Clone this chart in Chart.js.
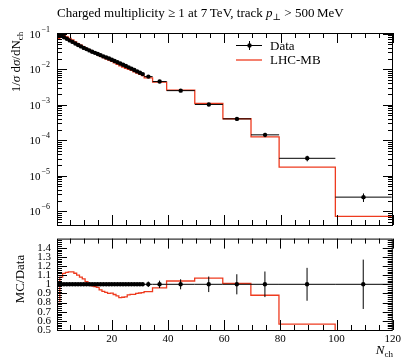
<!DOCTYPE html>
<html>
<head>
<meta charset="utf-8">
<title>Charged multiplicity</title>
<script src="https://cdn.jsdelivr.net/npm/chart.js@4.4.1/dist/chart.umd.min.js"></script>
<style>
  body { margin: 0; background: #fff; }
  #box { position: relative; width: 404px; height: 360px; }
  #box canvas { position: absolute; left: 0; }
</style>
</head>
<body>
<div id="box">
  <canvas id="mainChart" width="404" height="229" style="top:0"></canvas>
  <canvas id="ratioChart" width="404" height="134" style="top:226px"></canvas>
</div>
<script>
// N_ch bins
var nchEdges = [0.5, 1.5, 2.5, 3.5, 4.5, 5.5, 6.5, 7.5, 8.5, 9.5, 10.5,
  11.5, 12.5, 13.5, 14.5, 15.5, 16.5, 17.5, 18.5, 19.5, 20.5,
  21.5, 22.5, 23.5, 24.5, 25.5, 26.5, 27.5, 28.5, 29.5, 30.5, 31.5,
  34.5, 39.5, 49.5, 59.5, 69.5, 79.5, 99.5, 119.5];
var nchCentres = [1, 2, 3, 4, 5, 6, 7, 8, 9, 10,
  11, 12, 13, 14, 15, 16, 17, 18, 19, 20,
  21, 22, 23, 24, 25, 26, 27, 28, 29, 30, 31,
  33, 37, 44.5, 54.5, 64.5, 74.5, 89.5, 109.5];

// 1/sigma dsigma/dNch, data
var dataValues = [0.090, 0.088, 0.080, 0.072, 0.065, 0.059, 0.053, 0.048, 0.044, 0.040,
  0.037, 0.034, 0.031, 0.029, 0.027, 0.025, 0.023, 0.0215, 0.0200, 0.0185,
  0.0170, 0.0157, 0.0145, 0.0134, 0.0123, 0.0113, 0.0104, 0.0095, 0.0087, 0.0080, 0.0073,
  0.0062, 0.0045, 0.0025, 0.00102, 0.00040, 0.000142, 3.1e-5, 2.5e-6];
// relative uncertainty of data
var dataRelErr = [0.005, 0.005, 0.005, 0.005, 0.005, 0.005, 0.005, 0.005, 0.005, 0.005,
  0.005, 0.005, 0.005, 0.005, 0.005, 0.008, 0.008, 0.008, 0.008, 0.008,
  0.008, 0.008, 0.008, 0.008, 0.008, 0.012, 0.012, 0.012, 0.012, 0.012, 0.012,
  0.03, 0.04, 0.055, 0.085, 0.11, 0.14, 0.18, 0.27];
// LHC-MB prediction
var mcValues = [0.0729, 0.0950, 0.0896, 0.0814, 0.0738, 0.0670, 0.0594, 0.0528, 0.0475, 0.0424,
  0.0381, 0.0343, 0.0305, 0.0283, 0.0261, 0.0235, 0.0212, 0.0196, 0.0180, 0.0167,
  0.0151, 0.0137, 0.0124, 0.0115, 0.0106, 0.0100, 0.00926, 0.00846, 0.00783, 0.00724, 0.00664,
  0.00570, 0.00432, 0.00259, 0.00109, 0.000404, 0.000125, 1.75e-5, 7.2e-7];

// ticks
var xMajorTicks = [20, 40, 60, 80, 100, 120];
var xMinorTicks = [5, 10, 15, 25, 30, 35, 45, 50, 55, 65, 70, 75, 85, 90, 95, 105, 110, 115];
var logLabelExps = [-1, -2, -3, -4, -5, -6];
var ratioTicks = [0.5, 0.6, 0.7, 0.8, 0.9, 1, 1.1, 1.2, 1.3, 1.4];

var RED = '#ee3b1f';
var FONT = '"Liberation Serif", "DejaVu Serif", serif';
function f(size, style) { return (style ? style + ' ' : '') + size + 'px ' + FONT; }

function drawParts(ctx, parts, x, y) {
  parts.forEach(function (p) {
    ctx.font = p.f;
    ctx.fillText(p.t, x, y + (p.dy || 0));
    x += ctx.measureText(p.t).width;
  });
  return x;
}
function partsWidth(ctx, parts) {
  var w = 0;
  parts.forEach(function (p) { ctx.font = p.f; w += ctx.measureText(p.t).width; });
  return w;
}

// histogram as step line
function stepPoints(vals) {
  var pts = [];
  for (var i = 0; i < vals.length; i++) {
    pts.push({x: nchEdges[i], y: vals[i]}, {x: nchEdges[i + 1], y: vals[i]});
  }
  return pts;
}
// horizontal + vertical bars, separated with gaps
function barPoints(vals, lo, hi) {
  var pts = [];
  for (var i = 0; i < vals.length; i++) {
    pts.push({x: nchEdges[i], y: vals[i]}, {x: nchEdges[i + 1], y: vals[i]}, {x: nchEdges[i + 1], y: null});
    pts.push({x: nchCentres[i], y: lo[i]}, {x: nchCentres[i], y: hi[i]}, {x: nchCentres[i], y: null});
  }
  return pts;
}
function markerPoints(vals) {
  return nchCentres.map(function (c, i) { return {x: c, y: vals[i]}; });
}

// frame with inward ticks on all sides
var framePlugin = {
  id: 'frame',
  afterDraw: function (chart, args, o) {
    var ctx = chart.ctx, a = chart.chartArea, xs = chart.scales.x, ys = chart.scales.y;
    ctx.save();
    ctx.strokeStyle = '#000';
    ctx.lineWidth = 1;
    ctx.beginPath();
    function xt(vals, len) {
      vals.forEach(function (v) {
        var p = Math.round(xs.getPixelForValue(v)) + 0.5;
        ctx.moveTo(p, a.bottom); ctx.lineTo(p, a.bottom - len);
        ctx.moveTo(p, a.top); ctx.lineTo(p, a.top + len);
      });
    }
    function yt(vals, len) {
      vals.forEach(function (v) {
        var p = Math.round(ys.getPixelForValue(v)) + 0.5;
        if (p < a.top || p > a.bottom) return;
        ctx.moveTo(a.left, p); ctx.lineTo(a.left + len, p);
        ctx.moveTo(a.right, p); ctx.lineTo(a.right - len, p);
      });
    }
    xt(xMajorTicks, 10);
    xt(xMinorTicks, 5);
    yt(o.yMajor, 10);
    yt(o.yMinor, 5);
    ctx.stroke();
    ctx.strokeRect(a.left + 0.5, a.top + 0.5, a.right - a.left - 1, a.bottom - a.top);
    ctx.restore();
  }
};

var mainText = {
  id: 'mainText',
  afterDraw: function (chart) {
    var ctx = chart.ctx, ys = chart.scales.y;
    ctx.save();
    ctx.fillStyle = '#000';
    ctx.textBaseline = 'alphabetic';
    drawParts(ctx, [
      {t: 'Charged multiplicity \u2265 1 at 7\u2009TeV, track ', f: f(13)},
      {t: 'p', f: f(13, 'italic')},
      {t: '\u22a5', f: f(9), dy: 3},
      {t: ' > 500\u2009MeV', f: f(13)}
    ], 57, 17);

    // y tick labels 10^n
    logLabelExps.forEach(function (e) {
      var py = ys.getPixelForValue(Math.pow(10, e));
      var sup = '\u2212' + (-e);
      ctx.font = f(8); var w2 = ctx.measureText(sup).width;
      ctx.font = f(11); var w1 = ctx.measureText('10').width;
      var x0 = 50 - w1 - w2 - 1;
      ctx.fillText('10', x0, py + 4);
      ctx.font = f(8);
      ctx.fillText(sup, x0 + w1 + 1, py - 2);
    });

    // y title
    var yt = [
      {t: '1/', f: f(13)}, {t: '\u03c3', f: f(13, 'italic')},
      {t: ' d', f: f(13)}, {t: '\u03c3', f: f(13, 'italic')},
      {t: '/dN', f: f(13)}, {t: 'ch', f: f(9), dy: 3}
    ];
    ctx.save();
    ctx.translate(20, 62);
    ctx.rotate(-Math.PI / 2);
    drawParts(ctx, yt, -partsWidth(ctx, yt) / 2, 0);
    ctx.restore();

    // legend
    ctx.strokeStyle = '#000';
    ctx.lineWidth = 1;
    ctx.beginPath();
    ctx.moveTo(236, 45.5); ctx.lineTo(262, 45.5);
    ctx.moveTo(249.5, 41); ctx.lineTo(249.5, 50);
    ctx.stroke();
    ctx.beginPath();
    ctx.arc(249.5, 45.5, 2.2, 0, 2 * Math.PI);
    ctx.fill();
    ctx.strokeStyle = RED;
    ctx.lineWidth = 1.3;
    ctx.beginPath();
    ctx.moveTo(236, 60); ctx.lineTo(262, 60);
    ctx.stroke();
    ctx.font = f(13);
    ctx.fillText('Data', 270, 50);
    ctx.fillText('LHC-MB', 270, 64);
    ctx.restore();
  }
};

var ratioText = {
  id: 'ratioText',
  afterDraw: function (chart) {
    var ctx = chart.ctx;
    ctx.save();
    ctx.fillStyle = '#000';
    ctx.save();
    ctx.translate(24, 53);
    ctx.rotate(-Math.PI / 2);
    ctx.font = f(13);
    ctx.textAlign = 'center';
    ctx.fillText('MC/Data', 0, 0);
    ctx.restore();
    var lab = [{t: 'N', f: f(13, 'italic')}, {t: 'ch', f: f(9), dy: 3}];
    drawParts(ctx, lab, 393 - partsWidth(ctx, lab), 128);
    ctx.restore();
  }
};

// minor ticks for the log axis
var logMinor = [];
for (var d = -7; d <= -1; d++) {
  for (var k = 2; k <= 9; k++) logMinor.push(k * Math.pow(10, d));
}
var ratioMinor = [];
for (var r = 50; r <= 150; r += 2) if (r % 10) ratioMinor.push(r / 100);

var dataLo = dataValues.map(function (v, i) { return v * (1 - dataRelErr[i]); });
var dataHi = dataValues.map(function (v, i) { return v * (1 + dataRelErr[i]); });
var ones = dataValues.map(function () { return 1; });
var ratioLo = dataRelErr.map(function (e) { return 1 - e; });
var ratioHi = dataRelErr.map(function (e) { return 1 + e; });
var mcRatio = mcValues.map(function (v, i) { return v / dataValues[i]; });

Chart.defaults.color = '#000';
Chart.defaults.font.family = FONT;

function datasets(dataY, lo, hi, mcY) {
  return [
    {data: markerPoints(dataY), showLine: false, pointRadius: 2.2, pointBackgroundColor: '#000',
     pointBorderWidth: 0, borderColor: '#000'},
    {data: barPoints(dataY, lo, hi), borderColor: '#000', borderWidth: 1, pointRadius: 0,
     spanGaps: false, tension: 0},
    {data: stepPoints(mcY), borderColor: RED, borderWidth: 1.3, pointRadius: 0, tension: 0}
  ];
}

new Chart(document.getElementById('mainChart'), {
  type: 'line',
  data: {datasets: datasets(dataValues, dataLo, dataHi, mcValues)},
  options: {
    responsive: false,
    animation: false,
    layout: {padding: {left: 57, right: 11, top: 33, bottom: 1}},
    scales: {
      x: {type: 'linear', min: 0.5, max: 120, display: false},
      y: {type: 'logarithmic', min: 4.1e-7, max: 0.105, display: false}
    },
    plugins: {
      legend: {display: false},
      tooltip: {enabled: false},
      frame: {yMajor: logLabelExps.map(function (e) { return Math.pow(10, e); }), yMinor: logMinor}
    }
  },
  plugins: [framePlugin, mainText]
});

new Chart(document.getElementById('ratioChart'), {
  type: 'line',
  data: {datasets: datasets(ones, ratioLo, ratioHi, mcRatio)},
  options: {
    responsive: false,
    animation: false,
    layout: {padding: {left: 0, right: 11, top: 2, bottom: 0}},
    scales: {
      x: {
        type: 'linear', min: 0.5, max: 120,
        afterBuildTicks: function (s) { s.ticks = xMajorTicks.map(function (v) { return {value: v}; }); },
        afterFit: function (s) { s.height = 30; },
        ticks: {font: {size: 11}, padding: 3, maxRotation: 0, autoSkip: false},
        grid: {display: false, drawTicks: false},
        border: {display: false}
      },
      y: {
        type: 'linear', min: 0.5, max: 1.5,
        afterBuildTicks: function (s) { s.ticks = ratioTicks.map(function (v) { return {value: v}; }); },
        afterFit: function (s) { s.width = 57; },
        ticks: {font: {size: 11}, padding: 6, autoSkip: false,
                callback: function (v) { return String(v); }},
        grid: {display: false, drawTicks: false},
        border: {display: false}
      }
    },
    plugins: {
      legend: {display: false},
      tooltip: {enabled: false},
      frame: {yMajor: ratioTicks, yMinor: ratioMinor}
    }
  },
  plugins: [framePlugin, ratioText]
});
</script>
</body>
</html>
